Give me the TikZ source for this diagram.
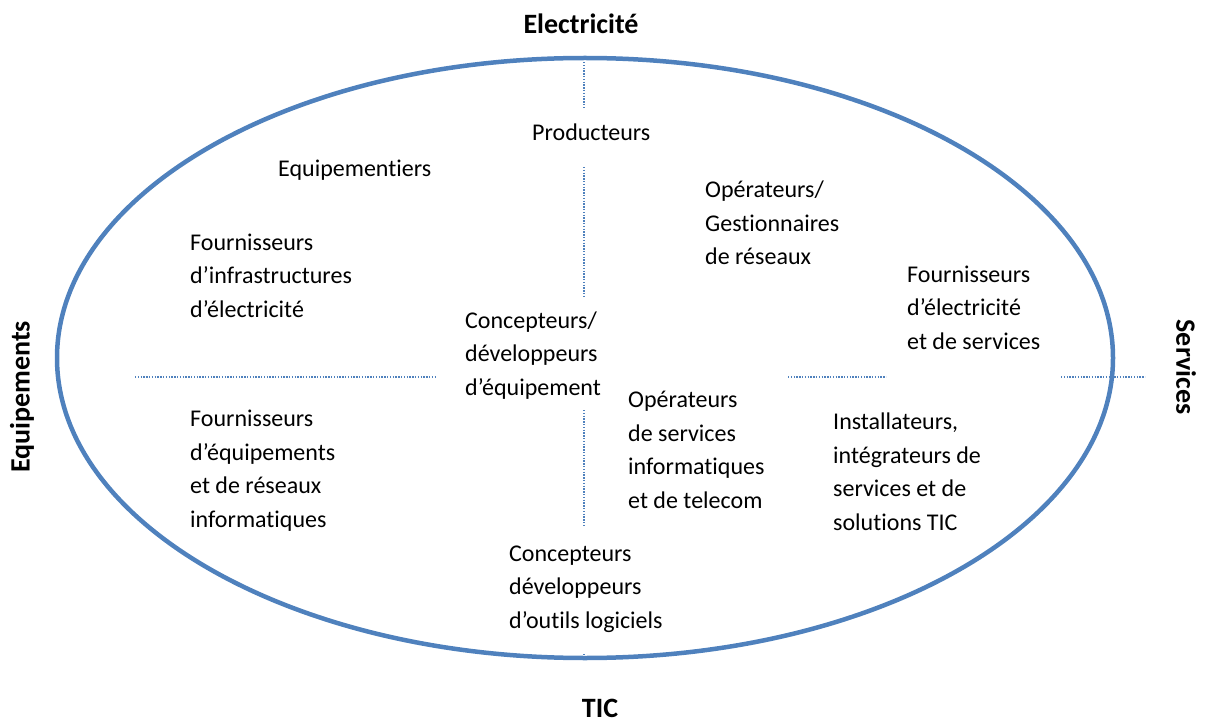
\documentclass[tikz,border=0pt]{standalone}
\usepackage{fontspec}
\setmainfont{Carlito}[Ligatures={NoCommon}]
\definecolor{ellblue}{RGB}{79,129,189}

\begin{document}
\begin{tikzpicture}[x=1pt, y=-1pt,
    lbl/.style={font=\fontsize{24}{33.5}\selectfont, inner sep=0pt, align=left, anchor=base west},
    axe/.style={font=\fontsize{28}{32}\selectfont\bfseries, inner sep=0pt},
    sep/.style={draw=ellblue, line width=1.4pt, dash pattern=on 1.4pt off 1.4pt}]
  % cadre
    \useasboundingbox (0,0) rectangle (1208,722);
    \coordinate (O) at (585,358);

    \draw[ellblue, line width=4.5pt] (O) ellipse [x radius=528pt, y radius=300pt];

  % separations
    \draw[sep] (584,62) -- (584,107);
    \draw[sep] (584,167) -- (584,297);
    \draw[sep] (584,410) -- (584,527);
    \draw[sep] (584,654) -- (584,656);
    \draw[sep] (135,377) -- (437,377);
    \draw[sep] (788,377) -- (886,377);
    \draw[sep] (1061,377) -- (1145,377);

  % axes (le texte de base est la derniere ligne)
    \node[axe, anchor=base] (elec) at (581,34) {Electricit\'e};
    \node[axe, anchor=base] (tic) at (600,717) {TIC};
    \node[axe, rotate=90] (equip) at (22,397) {Equipements};
    \node[axe, rotate=-90] (serv) at (1186,367) {Services};

  % acteurs
    \node[lbl] (prod) at (532,141) {Producteurs};
    \node[lbl] (eqmt) at (278,177) {Equipementiers};
    \node[lbl] (finfra) at (190,317) {Fournisseurs\\d'infrastructures\\d'\'electricit\'e};
    \node[lbl] (opres) at (705,265) {Op\'erateurs/\\Gestionnaires\\de r\'eseaux};
    \node[lbl] (felec) at (907,349) {Fournisseurs\\d'\'electricit\'e\\et de services};
    \node[lbl] (cequip) at (465,395) {Concepteurs/\\d\'eveloppeurs\\d'\'equipement};
    \node[lbl] (opinfo) at (628,508) {Op\'erateurs\\de services\\informatiques\\et de telecom};
    \node[lbl] (instal) at (833,530) {Installateurs,\\int\'egrateurs de\\services et de\\solutions TIC};
    \node[lbl] (fequip) at (190,527) {Fournisseurs\\d'\'equipements\\et de r\'eseaux\\informatiques};
    \node[lbl] (clog) at (509,628) {Concepteurs\\d\'eveloppeurs\\d'outils logiciels};
  \end{tikzpicture}
\end{document}
